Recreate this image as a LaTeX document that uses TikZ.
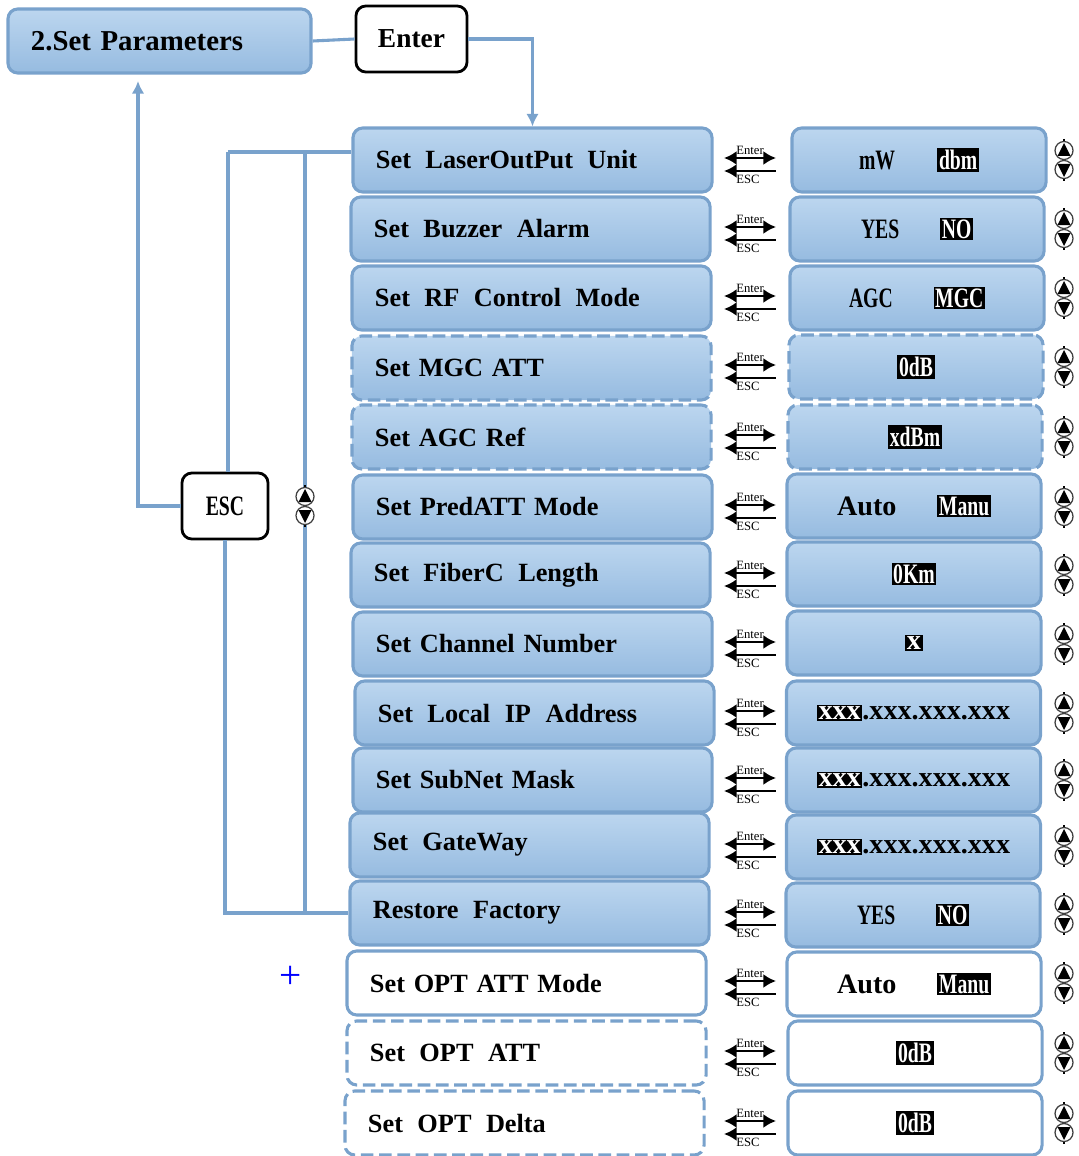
\documentclass[tikz,border=0pt]{standalone}
\usepackage{fontspec}
\setmainfont{Liberation Serif}
\newfontfamily\narrowfont[FakeStretch=0.7]{Liberation Serif}
\usetikzlibrary{arrows.meta,calc}
\definecolor{boxtop}{RGB}{188,214,239}
\definecolor{boxbot}{RGB}{150,187,224}
\definecolor{edge}{RGB}{121,162,204}
\setlength{\fboxsep}{1.2pt}
\newcommand{\inv}[1]{\colorbox{black}{\color{white}#1}}
\newcommand{\wsp}{\hspace{0.55em}}

\tikzset{
  menubox/.style={draw=edge, line width=2.2pt, rounded corners=7pt,
    top color=boxtop, bottom color=boxbot, minimum height=1.6cm},
  leftbox/.style={menubox, text width=7.825cm, inner xsep=0.575cm, align=left,
    font=\fontsize{18.7}{22}\selectfont\bfseries},
  valbox/.style={menubox, minimum width=6.35cm, align=center,
    font=\fontsize{20}{22}\selectfont\bfseries},
  dashbox/.style={dash pattern=on 9pt off 4pt},
  whitebox/.style={top color=white, bottom color=white},
  keybox/.style={draw, line width=2pt, rounded corners=7pt, fill=white,
    minimum height=1.65cm, font=\fontsize{19.5}{22}\selectfont\bfseries},
  conn/.style={draw=edge, line width=2.2pt},
  tiny/.style={font=\fontsize{9}{9}\selectfont, inner sep=0pt},
  tip/.style={-{Latex[length=9pt,width=9pt]}},
  updown/.pic={
    \draw[line width=0.9pt] (0,-21) -- (0,21);
    \draw[fill=white, draw=black!75, line width=0.9pt] (0,-9.5) circle (0.225cm) (0,9.5) circle (0.225cm);
    \fill (0,-17) -- (-6.5,-4) -- (6.5,-4) -- cycle;
    \fill (0,17) -- (-6.5,4) -- (6.5,4) -- cycle;
  }
}

\begin{document}
\begin{tikzpicture}[x=0.025cm, y=-0.025cm]
  \useasboundingbox (0,0) rectangle (1078,1156);

  %% head of the menu
  \node[leftbox, text width=6.425cm, font=\fontsize{20.5}{22}\selectfont\bfseries] (params) at (159.5,41) {2.Set Parameters};
  \node[keybox, minimum width=2.775cm] (enter) at (411.5,39) {Enter};
  \node[keybox, minimum width=2.15cm, font=\fontsize{20}{22}\selectfont\bfseries\narrowfont] (esc) at (225,506) {ESC};

  %% menu items
  \node[leftbox] (l1) at (532.5,160) {Set\wsp LaserOutPut\wsp Unit};
  \node[leftbox] (l2) at (530.5,229) {Set\wsp Buzzer\wsp Alarm};
  \node[leftbox] (l3) at (531.5,298) {Set\wsp RF\wsp Control\wsp Mode};
  \node[leftbox, dashbox] (l4) at (531.5,368) {Set MGC ATT};
  \node[leftbox, dashbox] (l5) at (531.5,437) {Set AGC Ref};
  \node[leftbox] (l6) at (532.5,507) {Set PredATT Mode};
  \node[leftbox] (l7) at (530.5,575) {Set\wsp FiberC\wsp Length};
  \node[leftbox] (l8) at (532.5,644) {Set Channel Number};
  \node[leftbox] (l9) at (534.5,713) {Set\wsp Local\wsp IP\wsp Address};
  \node[leftbox] (l10) at (532.5,780) {Set SubNet Mask};
  \node[leftbox] (l11) at (529.5,845) {Set\wsp GateWay};
  \node[leftbox] (l12) at (529.5,913) {Restore\wsp Factory};
  \node[leftbox, whitebox] (l13) at (526.5,983) {Set OPT ATT Mode};
  \node[leftbox, whitebox, dashbox] (l14) at (526.5,1053) {Set\wsp OPT\wsp ATT};
  \node[leftbox, whitebox, dashbox] (l15) at (524.5,1123) {Set\wsp OPT\wsp Delta};

  %% values
  \node[valbox] (v1) at (919,160) {\narrowfont mW\hspace{30pt}\inv{dbm}};
  \node[valbox] (v2) at (917,229) {\narrowfont YES\hspace{29pt}\inv{NO}};
  \node[valbox] (v3) at (917,298) {\narrowfont AGC\hspace{29pt}\inv{MGC}};
  \node[valbox, dashbox] (v4) at (916,367) {\narrowfont\inv{0dB}};
  \node[valbox, dashbox] (v5) at (915,437) {\narrowfont\inv{xdBm}};
  \node[valbox] (v6) at (914,506) {Auto\hspace{29pt}{\narrowfont\inv{Manu}}};
  \node[valbox] (v7) at (914,574) {\narrowfont\inv{0Km}};
  \node[valbox] (v8) at (914,643) {\inv{x}};
  \node[valbox] (v9) at (913.5,713) {\inv{xxx}.xxx.xxx.xxx};
  \node[valbox] (v10) at (913.5,780) {\inv{xxx}.xxx.xxx.xxx};
  \node[valbox] (v11) at (913.5,847) {\inv{xxx}.xxx.xxx.xxx};
  \node[valbox] (v12) at (913,915) {\narrowfont YES\hspace{29pt}\inv{NO}};
  \node[valbox, whitebox] (v13) at (914,984) {Auto\hspace{29pt}{\narrowfont\inv{Manu}}};
  \node[valbox, whitebox] (v14) at (915,1053) {\narrowfont\inv{0dB}};
  \node[valbox, whitebox] (v15) at (915,1123) {\narrowfont\inv{0dB}};

  %% Enter / ESC keys and up-down keys
  \foreach \i/\y in {1/160,2/229,3/298,4/367,5/437,6/507,7/575,8/644,9/713,10/780,11/846,12/914,13/983,14/1053,15/1123} {
    \draw[{Latex[length=9pt,width=10pt]}-{Latex[length=9pt,width=10pt]}, line width=1.8pt] (724,\y-2) -- (776,\y-2);
    \draw[{Latex[length=9pt,width=10pt]}-, line width=1.8pt] (724,\y+11) -- (776,\y+11);
    \node[tiny] (en\i) at (750,\y-10) {Enter};
    \node[tiny] (es\i) at (748,\y+19) {ESC};
    \pic at (1064,\y) {updown};
  }

  %% connectors
  \draw[conn] (params.east) -- (enter.west);
  \draw[conn, tip] (enter.east) -| (l1.north);
  \coordinate (ret) at (138,81);
  \draw[conn, tip] (esc.west) -| (ret);
  \coordinate (tl) at (228,152);
  \draw[conn] (tl) -- (tl -| l1.west);
  \draw[conn] (tl) -- (tl |- esc.north);
  \draw[conn] (esc.south) |- (l12.west);
  \coordinate (ud) at (305,506);
  \draw[conn] (ud |- tl) -- (ud |- l12.west);
  \pic at (ud) {updown};

  \node[text=blue, font=\fontsize{28}{28}\selectfont] (plus) at (291,977) {+};
\end{tikzpicture}
\end{document}
